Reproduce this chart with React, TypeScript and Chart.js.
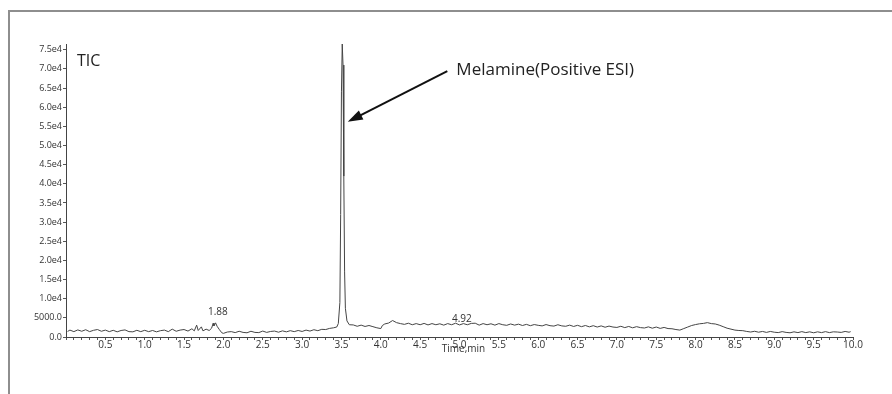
import React, { useEffect, useRef } from "react";
import { Chart, registerables } from "chart.js";

Chart.register(...registerables);

// Retention time (min)
const TIME_MIN = [
  0.02, 0.05, 0.1, 0.15, 0.2, 0.25, 0.3, 0.35, 0.4, 0.45,
  0.5, 0.55, 0.6, 0.65, 0.7, 0.75, 0.8, 0.85, 0.9, 0.95,
  1.0, 1.05, 1.1, 1.15, 1.2, 1.25, 1.3, 1.35, 1.4, 1.45,
  1.5, 1.55, 1.6, 1.63, 1.66, 1.68, 1.72, 1.74, 1.78, 1.82,
  1.85, 1.87, 1.88, 1.9, 1.92, 1.95, 1.98, 2.0, 2.05, 2.1,
  2.15, 2.2, 2.25, 2.3, 2.35, 2.4, 2.45, 2.5, 2.55, 2.6,
  2.65, 2.7, 2.75, 2.8, 2.85, 2.9, 2.95, 3.0, 3.05, 3.1,
  3.15, 3.2, 3.25, 3.3, 3.35, 3.4, 3.44, 3.46, 3.48, 3.49,
  3.5, 3.51, 3.52, 3.53, 3.54, 3.55, 3.57, 3.6, 3.65, 3.7,
  3.75, 3.8, 3.85, 3.9, 3.95, 4.0, 4.02, 4.05, 4.1, 4.15,
  4.2, 4.25, 4.3, 4.35, 4.4, 4.45, 4.5, 4.55, 4.6, 4.65,
  4.7, 4.75, 4.8, 4.85, 4.9, 4.95, 5.0, 5.05, 5.1, 5.15,
  5.2, 5.25, 5.3, 5.35, 5.4, 5.45, 5.5, 5.55, 5.6, 5.65,
  5.7, 5.75, 5.8, 5.85, 5.9, 5.95, 6.0, 6.05, 6.1, 6.15,
  6.2, 6.25, 6.3, 6.35, 6.4, 6.45, 6.5, 6.55, 6.6, 6.65,
  6.7, 6.75, 6.8, 6.85, 6.9, 6.95, 7.0, 7.05, 7.1, 7.15,
  7.2, 7.25, 7.3, 7.35, 7.4, 7.45, 7.5, 7.55, 7.6, 7.65,
  7.7, 7.75, 7.8, 7.85, 7.9, 7.95, 8.0, 8.05, 8.1, 8.15,
  8.2, 8.25, 8.3, 8.35, 8.4, 8.45, 8.5, 8.55, 8.6, 8.65,
  8.7, 8.75, 8.8, 8.85, 8.9, 8.95, 9.0, 9.05, 9.1, 9.15,
  9.2, 9.25, 9.3, 9.35, 9.4, 9.45, 9.5, 9.55, 9.6, 9.65,
  9.7, 9.75, 9.8, 9.85, 9.9, 9.95, 9.97,
];

// Total ion current (counts)
const TIC_COUNTS = [
  1450, 1800, 1400, 1850, 1500, 1900, 1400, 1750, 1950, 1500,
  1800, 1400, 1750, 1350, 1700, 1850, 1400, 1350, 1750, 1400,
  1750, 1400, 1700, 1350, 1650, 1800, 1400, 2050, 1500, 1800,
  1950, 1550, 2150, 1600, 3100, 1700, 2650, 1600, 2050, 1700,
  2300, 3600, 2900, 3700, 2800, 1900, 1100, 950, 1300, 1400,
  1150, 1500, 1200, 1100, 1500, 1200, 1150, 1550, 1200, 1450,
  1550, 1250, 1600, 1350, 1650, 1400, 1700, 1450, 1800, 1550,
  1900, 1650, 2000, 1950, 2250, 2400, 2600, 3500, 9000, 32000,
  64000, 76500, 71000, 42000, 17000, 7500, 4200, 3200, 3150, 2800,
  3100, 2750, 3000, 2700, 2400, 2200, 3000, 3400, 3650, 4300,
  3750, 3500, 3300, 3600, 3200, 3500, 3200, 3550, 3150, 3500,
  3200, 3450, 3100, 3500, 3200, 3600, 3150, 3500, 3200, 3550,
  3600, 3100, 3500, 3200, 3450, 3100, 3500, 3200, 3050, 3400,
  3100, 3350, 3000, 3300, 2950, 3250, 3050, 2900, 3250, 2950,
  2850, 3200, 2900, 2800, 3100, 2750, 3050, 2700, 3000, 2650,
  2950, 2600, 2900, 2550, 2850, 2600, 2500, 2800, 2450, 2750,
  2400, 2700, 2450, 2350, 2650, 2300, 2600, 2250, 2500, 2200,
  2150, 1950, 1800, 2200, 2600, 3000, 3250, 3450, 3550, 3750,
  3500, 3400, 3100, 2700, 2300, 2050, 1800, 1700, 1650, 1450,
  1300, 1500, 1250, 1450, 1200, 1450, 1250, 1150, 1400, 1200,
  1100, 1350, 1150, 1400, 1150, 1350, 1100, 1350, 1150, 1400,
  1150, 1350, 1300, 1200, 1450, 1250, 1400,
];

const Y_TICK_VALUES = [
  0, 5000, 10000, 15000, 20000, 25000, 30000, 35000,
  40000, 45000, 50000, 55000, 60000, 65000, 70000, 75000,
];
const X_MAJOR_LABELS = [
  "0.5", "1.0", "1.5", "2.0", "2.5", "3.0", "3.5", "4.0", "4.5", "5.0",
  "5.5", "6.0", "6.5", "7.0", "7.5", "8.0", "8.5", "9.0", "9.5", "10.0",
];

const PEAK_LABELS = [
  { text: "1.88", x: 1.93, y: 6600 },
  { text: "4.92", x: 5.03, y: 4700 },
];

const FONT = "'Open Sans', 'Noto Sans', sans-serif";

function formatY(v: number): string {
  if (v === 0) return "0.0";
  if (v < 10000) return v.toFixed(1);
  return (v / 10000).toFixed(1) + "e4";
}

const annotationPlugin = {
  id: "annotations",
  beforeDraw(chart: any) {
    const ctx = chart.ctx;
    ctx.save();
    ctx.strokeStyle = "#8e8e8e";
    ctx.lineWidth = 2;
    ctx.beginPath();
    ctx.moveTo(9, chart.height);
    ctx.lineTo(9, 11);
    ctx.lineTo(chart.width, 11);
    ctx.stroke();
    ctx.restore();
  },
  afterDraw(chart: any) {
    const ctx = chart.ctx;
    const xs = chart.scales.x;
    const ys = chart.scales.y;
    ctx.save();
    ctx.fillStyle = "#222";
    ctx.textBaseline = "middle";

    // TIC
    ctx.font = `16px ${FONT}`;
    ctx.textAlign = "left";
    ctx.fillText("TIC", xs.getPixelForValue(0.14), ys.getPixelForValue(71900));

    // Melamine label and arrow
    ctx.font = `17px ${FONT}`;
    const tx = xs.getPixelForValue(4.96);
    const ty = ys.getPixelForValue(69800);
    ctx.fillText("Melamine(Positive ESI)", tx, ty);

    const x0 = xs.getPixelForValue(4.845);
    const y0 = ys.getPixelForValue(69400);
    const x1 = xs.getPixelForValue(3.58);
    const y1 = ys.getPixelForValue(56200);
    const ang = Math.atan2(y1 - y0, x1 - x0);
    const headLen = 15;
    const headW = 5;
    const bx = x1 - headLen * Math.cos(ang);
    const by = y1 - headLen * Math.sin(ang);
    ctx.strokeStyle = "#111";
    ctx.lineWidth = 2;
    ctx.beginPath();
    ctx.moveTo(x0, y0);
    ctx.lineTo(bx + 2 * Math.cos(ang), by + 2 * Math.sin(ang));
    ctx.stroke();
    ctx.fillStyle = "#111";
    ctx.beginPath();
    ctx.moveTo(x1, y1);
    ctx.lineTo(bx - headW * Math.sin(ang), by + headW * Math.cos(ang));
    ctx.lineTo(bx + headW * Math.sin(ang), by - headW * Math.cos(ang));
    ctx.closePath();
    ctx.fill();

    // Peak labels
    ctx.fillStyle = "#333";
    ctx.font = `10px ${FONT}`;
    ctx.textAlign = "center";
    PEAK_LABELS.forEach((p) => {
      ctx.fillText(p.text, xs.getPixelForValue(p.x), ys.getPixelForValue(p.y));
    });

    // Axis title
    ctx.font = `10px ${FONT}`;
    ctx.fillText("Time,min", xs.getPixelForValue(5.05), ys.bottom + 12);
    ctx.restore();
  },
};

export default function App() {
  const ref = useRef<HTMLCanvasElement | null>(null);

  useEffect(() => {
    if (!ref.current) return;
    const points = TIME_MIN.map((t, i) => ({ x: t, y: TIC_COUNTS[i] }));
    const chart = new Chart(ref.current, {
      type: "line",
      data: {
        datasets: [
          {
            label: "TIC",
            data: points,
            borderColor: "#444",
            borderWidth: 1,
            pointRadius: 0,
            tension: 0,
            fill: false,
            clip: false as any,
          },
        ],
      },
      options: {
        responsive: false,
        animation: false,
        events: [],
        layout: { padding: { top: 44, right: 39, left: 0, bottom: 0 } },
        plugins: {
          legend: { display: false },
          tooltip: { enabled: false },
          title: { display: false },
        },
        scales: {
          x: {
            type: "linear",
            min: 0,
            max: 10,
            afterBuildTicks: (scale: any) => {
              const t: any[] = [];
              for (let i = 0; i <= 100; i++) t.push({ value: i / 10 });
              scale.ticks = t;
            },
            afterFit: (scale: any) => {
              scale.height = 57;
            },
            ticks: {
              autoSkip: false,
              maxRotation: 0,
              padding: -1,
              color: "#333",
              font: { size: 10, family: FONT },
              callback: (v: any) => {
                const r = Math.round(Number(v) * 10);
                if (r > 0 && r % 5 === 0) return X_MAJOR_LABELS[r / 5 - 1];
                return "";
              },
            },
            grid: {
              drawOnChartArea: false,
              drawTicks: true,
              tickLength: 3,
              color: "#555",
            },
            border: { display: true, color: "#444", width: 1 },
          },
          y: {
            type: "linear",
            min: 0,
            max: 76500,
            afterBuildTicks: (scale: any) => {
              scale.ticks = Y_TICK_VALUES.map((v) => ({ value: v }));
            },
            afterFit: (scale: any) => {
              scale.width = 66;
            },
            ticks: {
              padding: 1,
              color: "#333",
              font: { size: 9, family: FONT },
              callback: (v: any) => formatY(Number(v)),
            },
            grid: {
              drawOnChartArea: false,
              drawTicks: true,
              tickLength: 3,
              color: "#555",
            },
            border: { display: true, color: "#444", width: 1 },
          },
        },
      },
      plugins: [annotationPlugin],
    });
    return () => chart.destroy();
  }, []);

  return (
    <canvas
      ref={ref}
      width={892}
      height={394}
      style={{ position: "absolute", left: 0, top: 0, width: 892, height: 394 }}
    />
  );
}
